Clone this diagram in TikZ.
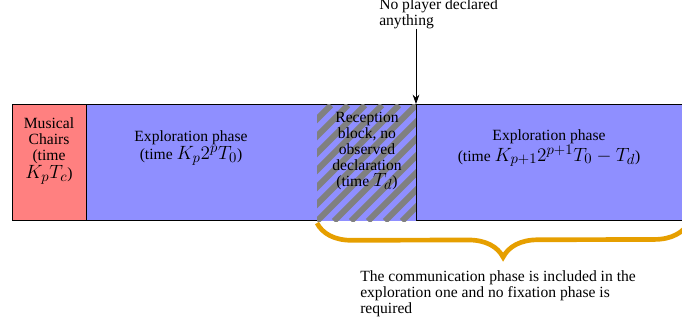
\documentclass[tikz,border=0pt]{standalone}
\usepackage{fontspec}
\setmainfont{Liberation Serif}
\usetikzlibrary{decorations.pathreplacing,arrows.meta}
\definecolor{chairred}{RGB}{255,128,128}
\definecolor{expblue}{RGB}{143,143,255}
\definecolor{braceorange}{RGB}{230,159,0}
\newcommand{\bigmath}[1]{{\fontsize{15.5}{12}\selectfont$#1$}}
\tikzset{
    phase/.style={line width=0.8pt, minimum height=87pt, inner sep=0pt, anchor=north west},
    phasetext/.style={align=center, font=\fontsize{11.7}{12}\selectfont, inner sep=0pt},
    stripe/.style={gray, line width=4.5pt},
    bracket/.style={braceorange, line width=3.5pt, decorate, decoration={brace, mirror, amplitude=26pt}},
}
\begin{document}
\begin{tikzpicture}[x=0.75pt, y=-0.75pt]
    \path[use as bounding box, clip] (0,0) rectangle (682,325);
    \node[phase, draw, fill=expblue, minimum width=330*0.75pt] (A0_1) at (86,104) {};
    \node[phase, draw, fill=chairred, minimum width=74*0.75pt] (A0_0) at (12,104) {};
    \node[phase, fill=expblue, minimum width=99*0.75pt] (A0_2) at (317,104) {};
    \begin{scope}
        \clip (A0_2.south west) rectangle (A0_2.north east);
        \foreach \i in {-7,...,6}
            \draw[stripe] ([xshift=\i*12.75pt]A0_2.south west) -- ++(116,-116);
    \end{scope}
    \node[phase, draw, fill=expblue, minimum width=272*0.75pt] (A0_3) at (416,104) {};
    \node[phasetext] (T0_0) at (49,151) {Musical\\Chairs\\(time\\\bigmath{K_pT_c})};
    \node[phasetext] (T0_1) at (191,148) {Exploration phase\\(time \bigmath{K_p2^pT_0})};
    \node[phasetext] (T0_2) at (367,151) {Reception\\block, no\\observed\\declaration\\(time \bigmath{T_d})};
    \node[phasetext] (T0_3) at (549,148) {Exploration phase\\(time \bigmath{K_{p+1}2^{p+1}T_0-T_d})};
    \node[phasetext, align=left, anchor=base west] (N0) at (379,25) {No player declared\\anything};
    \coordinate (B0) at ([yshift=-1.5pt]A0_2.south west);
    \coordinate (B1) at (689,222);
    \draw[bracket] (B0) -- (B1);
    \node[phasetext, align=left, anchor=north west] (N1) at (360,270) {The communication phase is included in the\\exploration one and no fixation phase is\\required};
    \path (N0.south -| A0_3.north west) edge [-{Stealth[length=7pt,width=5pt]}, line width=0.6pt] (A0_3.north west);
\end{tikzpicture}
\end{document}
